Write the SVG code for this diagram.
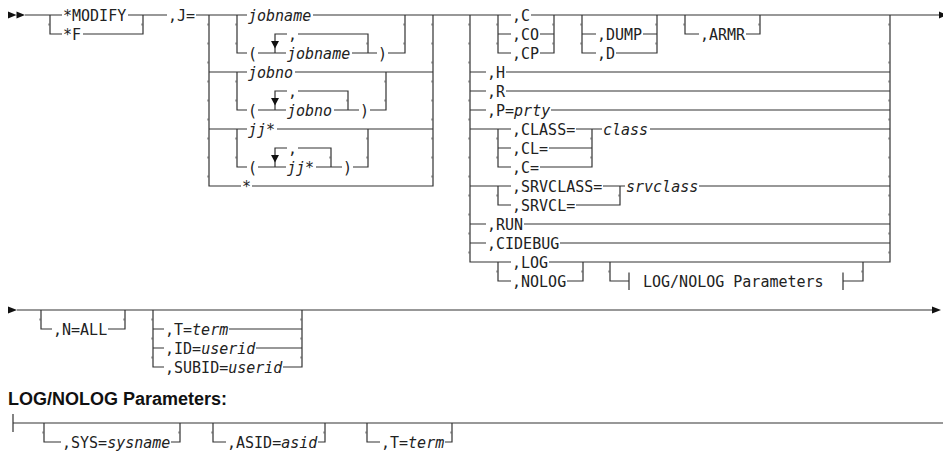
<svg xmlns="http://www.w3.org/2000/svg" width="943" height="451" viewBox="0 0 943 451">
<style>
.ln{fill:none;stroke:#333;stroke-width:1.2}
.tk{fill:none;stroke:#555;stroke-width:1;stroke-dasharray:2 17}
.ar{fill:#111}
.t{font-family:"DejaVu Sans Mono","Liberation Mono",monospace;font-size:15px;fill:#222}
.i{font-style:italic}
.bg{fill:#fff}
.h{font-family:"Liberation Sans",Arial,sans-serif;font-weight:bold;font-size:18px;fill:#111}
</style>
<rect width="943" height="451" fill="#fff"/>
<g id="connectors">
<path class="ln" d="M25 15H940"/>
<path class="ln" d="M50 15V34H143V15"/>
<path class="ln" d="M209 15V186H433V15M209 72H433M209 129H433"/>
<path class="ln" d="M237 15V53H405V15M275 53V34H368V53"/>
<path class="ln" d="M237 72V110H386V72M275 110V91H348V110"/>
<path class="ln" d="M237 129V167H368V129M275 167V148H331V167"/>
<path class="ln" d="M470 15V262H890V15"/>
<path class="ln" d="M498 15V53H554V15M498 34H554"/>
<path class="ln" d="M582 15V53H657V15M582 34H657"/>
<path class="ln" d="M685 15V34H760V15"/>
<path class="ln" d="M470 72H890M470 91H890M470 110H890M470 129H890M470 186H890M470 224H890M470 243H890"/>
<path class="ln" d="M498 129V167H592V129M498 148H592"/>
<path class="ln" d="M498 186V205H620V186"/>
<path class="ln" d="M498 262V281H583V262"/>
<path class="ln" d="M610 262V281H629M629 272.5V290M843 272.5V290M843 281H863V262"/>
<path class="ln" d="M17 310H933"/>
<path class="ln" d="M41 310V329H125V310"/>
<path class="ln" d="M153 310V367H302V310M153 329H302M153 348H302"/>
<path class="ln" d="M13 414V432M13 423H943"/>
<path class="ln" d="M44 423V442H180V423"/>
<path class="ln" d="M213 423V442H325V423"/>
<path class="ln" d="M367 423V442H452V423"/>
<path class="tk" d="M49 23.5V34M142 23.5V34M208 23.5V186M432 23.5V186M236 23.5V53M236 80.5V110M236 137.5V167M404 23.5V53M385 80.5V110M367 137.5V167M367 42.5V53M347 99.5V110M330 156.5V167M469 23.5V262M889 23.5V262M497 23.5V53M497 137.5V167M497 194.5V205M497 270.5V281M553 23.5V53M581 23.5V53M656 23.5V53M684 23.5V34M759 23.5V34M591 137.5V167M619 194.5V205M582 270.5V281M609 270.5V281M862 270.5V281M40 318.5V329M124 318.5V329M152 318.5V367M301 318.5V367M43 431.5V442M179 431.5V442M212 431.5V442M324 431.5V442M366 431.5V442M451 431.5V442"/>
<path class="ar" d="M8 11.5L16.5 15L8 18.5ZM16.5 11.5L25 15L16.5 18.5Z"/>
<path class="ar" d="M939 11.5L947 15L939 18.5Z"/>
<path class="ar" d="M8 306.5L17 310L8 313.5Z"/>
<path class="ar" d="M932 306.5L941 310L932 313.5Z"/>
<path class="ar" d="M271 41L279 41L275 48.5Z"/>
<path class="ar" d="M271 98L279 98L275 105.5Z"/>
<path class="ar" d="M271 155L279 155L275 162.5Z"/>
</g>
<g id="modify"><rect class="bg" x="62" y="11" width="66" height="8"/><text class="t" x="63" y="20.5">*MODIFY</text></g>
<g id="f"><rect class="bg" x="62" y="30" width="21" height="8"/><text class="t" x="63" y="39.5">*F</text></g>
<g id="j"><rect class="bg" x="167" y="11" width="29" height="8"/><text class="t" x="168" y="20.5">,J=</text></g>
<g id="jobname"><rect class="bg" x="247" y="11" width="66" height="8"/><text class="t i" x="248" y="20.5">jobname</text></g>
<g id="jobname-list"><rect class="bg" x="247" y="49" width="11" height="8"/><text class="t" x="248" y="58.5">(</text><rect class="bg" x="286" y="49" width="66" height="8"/><text class="t i" x="287" y="58.5">jobname</text><rect class="bg" x="287" y="30" width="11" height="8"/><text class="t" x="288" y="39.5">,</text><rect class="bg" x="377" y="49" width="11" height="8"/><text class="t" x="378" y="58.5">)</text></g>
<g id="jobno"><rect class="bg" x="247" y="68" width="48" height="8"/><text class="t i" x="248" y="77.5">jobno</text></g>
<g id="jobno-list"><rect class="bg" x="247" y="106" width="11" height="8"/><text class="t" x="248" y="115.5">(</text><rect class="bg" x="286" y="106" width="48" height="8"/><text class="t i" x="287" y="115.5">jobno</text><rect class="bg" x="287" y="87" width="11" height="8"/><text class="t" x="288" y="96.5">,</text><rect class="bg" x="359" y="106" width="11" height="8"/><text class="t" x="360" y="115.5">)</text></g>
<g id="jj"><rect class="bg" x="247" y="125" width="30" height="8"/><text class="t i" x="248" y="134.5">jj*</text></g>
<g id="jj-list"><rect class="bg" x="247" y="163" width="11" height="8"/><text class="t" x="248" y="172.5">(</text><rect class="bg" x="286" y="163" width="30" height="8"/><text class="t i" x="287" y="172.5">jj*</text><rect class="bg" x="287" y="144" width="11" height="8"/><text class="t" x="288" y="153.5">,</text><rect class="bg" x="342" y="163" width="11" height="8"/><text class="t" x="343" y="172.5">)</text></g>
<g id="star"><rect class="bg" x="241" y="182" width="11" height="8"/><text class="t" x="242" y="191.5">*</text></g>
<g id="c"><rect class="bg" x="511" y="11" width="20" height="8"/><text class="t" x="512" y="20.5">,C</text></g>
<g id="co"><rect class="bg" x="511" y="30" width="29" height="8"/><text class="t" x="512" y="39.5">,CO</text></g>
<g id="cp"><rect class="bg" x="511" y="49" width="29" height="8"/><text class="t" x="512" y="58.5">,CP</text></g>
<g id="dump"><rect class="bg" x="596" y="30" width="47" height="8"/><text class="t" x="597" y="39.5">,DUMP</text></g>
<g id="d"><rect class="bg" x="596" y="49" width="20" height="8"/><text class="t" x="597" y="58.5">,D</text></g>
<g id="armr"><rect class="bg" x="699" y="30" width="47" height="8"/><text class="t" x="700" y="39.5">,ARMR</text></g>
<g id="h"><rect class="bg" x="486" y="68" width="20" height="8"/><text class="t" x="487" y="77.5">,H</text></g>
<g id="r"><rect class="bg" x="486" y="87" width="20" height="8"/><text class="t" x="487" y="96.5">,R</text></g>
<g id="p"><rect class="bg" x="486" y="106" width="65" height="8"/><text class="t" x="487" y="115.5">,P=<tspan class="i">prty</tspan></text></g>
<g id="class"><rect class="bg" x="511" y="125" width="65" height="8"/><text class="t" x="512" y="134.5">,CLASS=</text></g>
<g id="cl"><rect class="bg" x="511" y="144" width="38" height="8"/><text class="t" x="512" y="153.5">,CL=</text></g>
<g id="c-eq"><rect class="bg" x="511" y="163" width="29" height="8"/><text class="t" x="512" y="172.5">,C=</text></g>
<g id="class-val"><rect class="bg" x="602" y="125" width="48" height="8"/><text class="t i" x="603" y="134.5">class</text></g>
<g id="srvclass"><rect class="bg" x="511" y="182" width="92" height="8"/><text class="t" x="512" y="191.5">,SRVCLASS=</text></g>
<g id="srvcl"><rect class="bg" x="511" y="201" width="65" height="8"/><text class="t" x="512" y="210.5">,SRVCL=</text></g>
<g id="srvclass-val"><rect class="bg" x="625" y="182" width="74" height="8"/><text class="t i" x="626" y="191.5">srvclass</text></g>
<g id="run"><rect class="bg" x="486" y="220" width="38" height="8"/><text class="t" x="487" y="229.5">,RUN</text></g>
<g id="cidebug"><rect class="bg" x="486" y="239" width="74" height="8"/><text class="t" x="487" y="248.5">,CIDEBUG</text></g>
<g id="log"><rect class="bg" x="511" y="258" width="38" height="8"/><text class="t" x="512" y="267.5">,LOG</text></g>
<g id="nolog"><rect class="bg" x="511" y="277" width="56" height="8"/><text class="t" x="512" y="286.5">,NOLOG</text></g>
<g id="lognolog-ref"><text class="t" x="643" y="286.5">LOG/NOLOG Parameters</text></g>
<g id="nall"><rect class="bg" x="52" y="325" width="56" height="8"/><text class="t" x="53" y="334.5">,N=ALL</text></g>
<g id="t-term"><rect class="bg" x="164" y="325" width="65" height="8"/><text class="t" x="165" y="334.5">,T=<tspan class="i">term</tspan></text></g>
<g id="id-userid"><rect class="bg" x="164" y="344" width="92" height="8"/><text class="t" x="165" y="353.5">,ID=<tspan class="i">userid</tspan></text></g>
<g id="subid-userid"><rect class="bg" x="164" y="363" width="119" height="8"/><text class="t" x="165" y="372.5">,SUBID=<tspan class="i">userid</tspan></text></g>
<g id="header"><text class="h" x="8" y="405">LOG/NOLOG Parameters:</text></g>
<g id="sys"><rect class="bg" x="61" y="438" width="110" height="8"/><text class="t" x="62" y="447.5">,SYS=<tspan class="i">sysname</tspan></text></g>
<g id="asid"><rect class="bg" x="226" y="438" width="92" height="8"/><text class="t" x="227" y="447.5">,ASID=<tspan class="i">asid</tspan></text></g>
<g id="t-term2"><rect class="bg" x="380" y="438" width="65" height="8"/><text class="t" x="381" y="447.5">,T=<tspan class="i">term</tspan></text></g>
</svg>
